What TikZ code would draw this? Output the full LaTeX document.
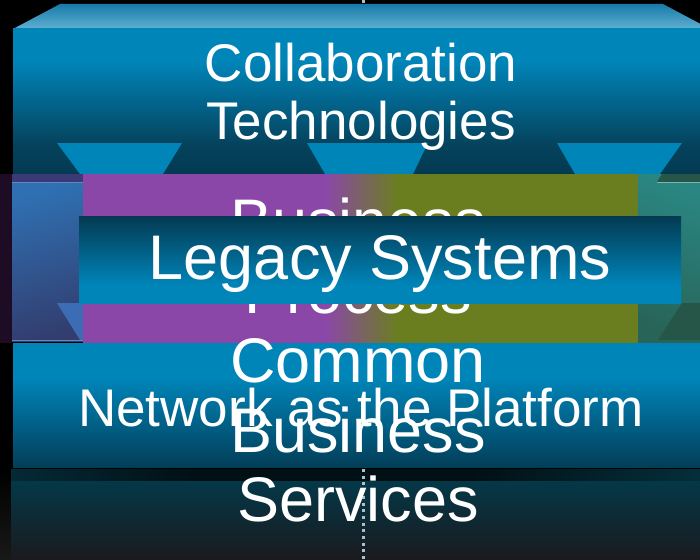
\documentclass[tikz,border=0pt]{standalone}
\usepackage{fontspec}
\setmainfont{Liberation Sans}

% palette
\definecolor{bright}{RGB}{0,133,185}
\definecolor{deep}{RGB}{3,58,82}
\definecolor{deepmid}{RGB}{5,66,92}
\definecolor{netdeep}{RGB}{2,62,88}
\definecolor{faceA}{RGB}{24,122,168}
\definecolor{faceB}{RGB}{96,176,210}
\definecolor{purp}{RGB}{139,71,168}
\definecolor{olive}{RGB}{106,126,32}
\definecolor{tealA}{RGB}{42,134,130}
\definecolor{tealB}{RGB}{40,100,88}
\definecolor{greendk}{RGB}{37,86,72}
\definecolor{sideA}{RGB}{47,112,178}
\definecolor{sideB}{RGB}{50,62,112}
\definecolor{sidetop}{RGB}{58,58,118}
\definecolor{sidefun}{RGB}{60,108,180}
\definecolor{edgecol}{RGB}{100,135,195}
\definecolor{leftstrip}{RGB}{29,12,35}
\definecolor{botA}{RGB}{4,56,72}
\definecolor{botB}{RGB}{26,26,30}
\definecolor{stripA}{RGB}{4,42,54}
\definecolor{stripM}{RGB}{1,16,21}
\definecolor{stripB}{RGB}{4,48,60}
\definecolor{gray24}{RGB}{24,24,24}
\definecolor{dotcol}{RGB}{170,192,205}

% shadings (path box maps to 25bp..75bp, bottom to top / left to right)
\pgfdeclareverticalshading{topfront}{100bp}{color(0bp)=(deep); color(25bp)=(deep); color(35bp)=(deepmid); color(64bp)=(bright); color(100bp)=(bright)}
\pgfdeclareverticalshading{topface}{100bp}{color(0bp)=(faceB); color(25bp)=(faceB); color(75bp)=(faceA); color(100bp)=(faceA)}
\pgfdeclareverticalshading{legacyshade}{100bp}{color(0bp)=(bright); color(35bp)=(bright); color(75bp)=(deep); color(100bp)=(deep)}
\pgfdeclareverticalshading{netshade}{100bp}{color(0bp)=(netdeep); color(25bp)=(netdeep); color(61bp)=(bright); color(100bp)=(bright)}
\pgfdeclareverticalshading{botshade}{100bp}{color(0bp)=(botB); color(25bp)=(botB); color(75bp)=(botA); color(100bp)=(botA)}
\pgfdeclareverticalshading{leftgray}{100bp}{color(0bp)=(gray24); color(25bp)=(gray24); color(75bp)=(black); color(100bp)=(black)}
\pgfdeclarehorizontalshading{stripshade}{100bp}{color(0bp)=(stripA); color(25bp)=(stripA); color(38bp)=(stripM); color(58bp)=(stripM); color(75bp)=(stripB); color(100bp)=(stripB)}
\pgfdeclarehorizontalshading{bandshade}{100bp}{color(0bp)=(purp); color(46.8bp)=(purp); color(53.3bp)=(olive); color(100bp)=(olive)}

\begin{document}
\begin{tikzpicture}[x=1pt,y=-1pt,
  txtbig/.style={text=white,inner sep=0pt,anchor=base,font=\fontsize{63}{70}\selectfont},
  txtmid/.style={text=white,inner sep=0pt,anchor=base,font=\fontsize{53}{57}\selectfont},
  funnel/.style={fill=bright},
  edgeline/.style={draw=edgecol,line width=1pt}]
\useasboundingbox (0,0) rectangle (700,559);
\clip (0,0) rectangle (700,559);
\fill[black] (0,0) rectangle (700,559);

% base slab
\shade[shading=leftgray] (0,469) rectangle (11,559);
\shade[shading=stripshade] (11,469) rectangle (710,481);
\shade[shading=botshade] (11,481) rectangle (710,559);

% centre axis
\coordinate (axtop) at (363.5,0);
\coordinate (axbot) at (363.5,559);
\draw[dotcol,line width=3pt,dash pattern=on 3pt off 3.7pt] (axtop) -- (axbot);

% upper block: top face, front face, funnels
\shade[shading=topface] (13,29) -- (60,4) -- (663,4) -- (710,29) -- cycle;
\shade[shading=topfront] (13,29) rectangle (710,174);
\fill[funnel] (57,143) -- (182,143) -- (163,174) -- (80,174) -- cycle;
\fill[funnel] (307,143) -- (428,143) -- (413,174) -- (325,174) -- cycle;
\fill[funnel] (557,143) -- (682,143) -- (660,174) -- (575,174) -- cycle;

% middle band
\fill[leftstrip] (0,174) rectangle (12,343);
\fill[sidetop] (12,174) rectangle (83,182);
\shade[top color=sideA,bottom color=sideB,shading angle=15] (12,182) rectangle (83,341);
\fill[sidefun] (57,303) -- (83,303) -- (83,340) -- (80,340) -- cycle;
\draw[edgeline] (12,182.5) -- (83,182.5);
\draw[edgeline] (12,340.5) -- (83,340.5);
\shade[shading=bandshade] (83,174) rectangle (638,343);
\shade[top color=tealA,bottom color=tealB,shading angle=-20] (638,174) rectangle (700,343);
\fill[greendk] (662,174) -- (700,174) -- (700,182) -- (657,182) -- cycle;
\draw[edgeline,draw=tealA!60!white] (657,182.5) -- (700,182.5);
\fill[greendk] (682,303) -- (700,303) -- (700,340) -- (658,340) -- cycle;

\node[txtbig] (bp1) at (358,243) {Business};
\node[txtbig] (bp2) at (358,313) {Process};

% legacy bar
\shade[shading=legacyshade] (79,216) rectangle (681,303);
\node[txtbig] (legacy) at (380,279) {Legacy Systems};

% lower block
\shade[shading=netshade] (13,343) rectangle (710,467);

% labels
\node[txtmid] (collab1) at (361,82) {Collaboration};
\node[txtmid] (collab2) at (361,139) {Technologies};
\node[txtbig] (cbs1) at (358,382) {Common};
\node[txtbig] (cbs2) at (358,452) {Business};
\node[txtbig] (cbs3) at (358,521) {Services};
\node[txtmid] (network) at (361,426) {Network as the Platform};
\end{tikzpicture}
\end{document}
